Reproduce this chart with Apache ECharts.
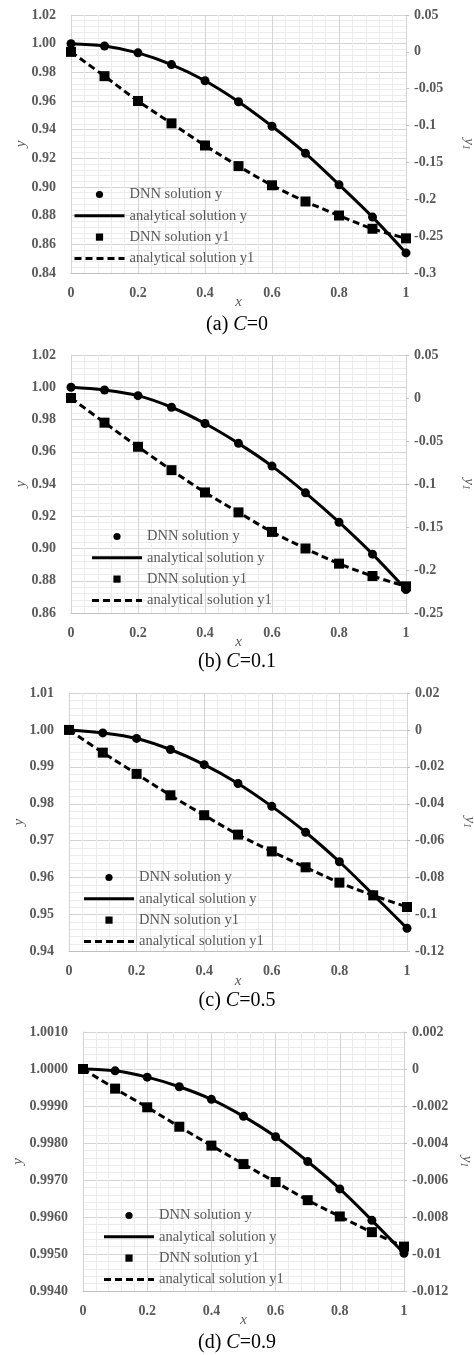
<!DOCTYPE html>
<html>
<head>
<meta charset="utf-8">
<script src="https://cdn.jsdelivr.net/npm/echarts@6/dist/echarts.min.js"></script>
<style>
  html, body { margin: 0; padding: 0; background: #fff; }
  #main { width: 474px; height: 1355px; }
</style>
</head>
<body>
<div id="main"></div>
<script>
// x 坐标
const xs = [0, 0.1, 0.2, 0.3, 0.4, 0.5, 0.6, 0.7, 0.8, 0.9, 1]

// (a) C=0
const yA = [1.000, 0.9984, 0.9936, 0.9854, 0.9741, 0.9595, 0.9424, 0.9235, 0.9016, 0.8790, 0.8540]
const y1A = [0, -0.033, -0.0667, -0.097, -0.127, -0.155, -0.181, -0.203, -0.222, -0.240, -0.253]
// (b) C=0.1
const yB = [1.000, 0.9983, 0.9948, 0.9876, 0.9775, 0.9652, 0.9511, 0.9345, 0.9163, 0.8965, 0.8745]
const y1B = [0, -0.0287, -0.0567, -0.0839, -0.1098, -0.133, -0.1557, -0.175, -0.1926, -0.207, -0.219]
// (c) C=0.5
const yC = [1.000, 0.9992, 0.9977, 0.9947, 0.9906, 0.9855, 0.9793, 0.9723, 0.9643, 0.9554, 0.9463]
const y1C = [0, -0.0123, -0.0238, -0.0354, -0.0462, -0.0567, -0.0658, -0.0744, -0.0827, -0.0896, -0.0959]
// (d) C=0.9
const yD = [1.0000, 0.99995, 0.99978, 0.99952, 0.99918, 0.99872, 0.99817, 0.99750, 0.99676, 0.99591, 0.99502]
const y1D = [0, -0.00106, -0.00207, -0.00312, -0.00414, -0.00514, -0.00611, -0.00709, -0.00797, -0.00882, -0.00960]

// 坐标轴范围 [min, max, interval, 小数位]
const leftRanges = [[0.84, 1.02, 0.02, 2], [0.86, 1.02, 0.02, 2], [0.94, 1.01, 0.01, 2], [0.994, 1.001, 0.001, 4]]
const rightRanges = [[-0.3, 0.05, 0.05], [-0.25, 0.05, 0.05], [-0.12, 0.02, 0.02], [-0.012, 0.002, 0.002]]
const captions = ['(a) {i|C}=0', '(b) {i|C}=0.1', '(c) {i|C}=0.5', '(d) {i|C}=0.9']
const legendNames = ['DNN solution y', 'analytical solution y', 'DNN solution y1', 'analytical solution y1']

const panels = [[yA, y1A], [yB, y1B], [yC, y1C], [yD, y1D]]

// 布局
const grids = [
  { left: 71, right: 68, top: 15, height: 258, outerBoundsMode: 'none' },
  { left: 71, right: 68, top: 355, height: 258, outerBoundsMode: 'none' },
  { left: 69, right: 67, top: 693, height: 258.5, outerBoundsMode: 'none' },
  { left: 83, right: 70, top: 1032, height: 259, outerBoundsMode: 'none' }
]
const legendPos = [[73, 187], [90.5, 529], [82.5, 870], [102.5, 1208]]
const captionTop = [314, 651, 990, 1332]
const leftNameGap = [42, 42, 42, 57]

const FONT = '"Liberation Serif", "Times New Roman", serif'
const GRAY = '#595959'

const pair = (ys) => xs.map((x, i) => [x, ys[i]])

// 图例：解析解只显示线，不显示点
const legendData = legendNames.map(n => n.indexOf('analytical') === 0
  ? { name: n, itemStyle: { opacity: 0 }, lineStyle: { width: 3 } }
  : { name: n })

const option = {
  animation: false,
  textStyle: { fontFamily: FONT },
  grid: grids,
  title: [],
  legend: [],
  xAxis: [],
  yAxis: [],
  series: []
}

panels.forEach((p, k) => {
  const lr = leftRanges[k]
  const rr = rightRanges[k]
  option.title.push({
    text: captions[k],
    left: 237,
    top: captionTop[k],
    textAlign: 'center',
    padding: 0,
    textStyle: {
      fontFamily: FONT, fontSize: 20, fontWeight: 'normal', color: '#000', lineHeight: 22,
      rich: { i: { fontFamily: FONT, fontSize: 20, fontStyle: 'italic', color: '#000' } }
    }
  })
  option.legend.push({
    data: legendData,
    orient: 'vertical',
    left: legendPos[k][0],
    top: legendPos[k][1],
    padding: 0,
    itemWidth: 50,
    itemHeight: 9,
    itemGap: 6.3,
    selectedMode: false,
    textStyle: { fontFamily: FONT, fontSize: 14.5, lineHeight: 15, color: GRAY }
  })
  option.xAxis.push({
    type: 'value',
    gridIndex: k,
    min: 0, max: 1, interval: 0.2,
    name: 'x',
    nameLocation: 'middle',
    nameGap: 22,
    nameMoveOverlap: false,
    nameTextStyle: { fontFamily: FONT, fontSize: 15, fontStyle: 'italic', color: GRAY },
    axisLine: { onZero: false, lineStyle: { color: '#bfbfbf', width: 1 } },
    axisTick: { show: false },
    axisLabel: { fontFamily: FONT, fontSize: 14, fontWeight: 'bold', color: GRAY, margin: 13 },
    splitLine: { show: true, lineStyle: { color: '#d4d4d4', width: 1 } },
    minorTick: { show: false, splitNumber: 5 },
    minorSplitLine: { show: true, lineStyle: { color: '#ececec', width: 1 } }
  })
  option.yAxis.push({
    type: 'value',
    gridIndex: k,
    min: lr[0], max: lr[1], interval: lr[2],
    name: '{i|y}',
    nameLocation: 'middle',
    nameGap: leftNameGap[k],
    nameMoveOverlap: false,
    nameRotate: 90,
    nameTextStyle: { color: GRAY, rich: { i: { fontFamily: FONT, fontSize: 15, fontStyle: 'italic', color: GRAY } } },
    axisLine: { show: true, onZero: false, lineStyle: { color: '#d4d4d4', width: 1 } },
    axisTick: { show: false },
    axisLabel: {
      fontFamily: FONT, fontSize: 14, fontWeight: 'bold', color: GRAY, margin: 15,
      formatter: (v) => v.toFixed(lr[3])
    },
    splitLine: { show: true, lineStyle: { color: '#d4d4d4', width: 1 } },
    minorTick: { show: false, splitNumber: 5 },
    minorSplitLine: { show: true, lineStyle: { color: '#ececec', width: 1 } }
  })
  option.yAxis.push({
    type: 'value',
    gridIndex: k,
    position: 'right',
    min: rr[0], max: rr[1], interval: rr[2],
    name: '{i|y}{s|1}',
    nameLocation: 'middle',
    nameGap: 55,
    nameMoveOverlap: false,
    nameRotate: -90,
    nameTextStyle: {
      color: GRAY,
      rich: {
        i: { fontFamily: FONT, fontSize: 15, fontStyle: 'italic', color: GRAY },
        s: { fontFamily: FONT, fontSize: 10, fontStyle: 'italic', color: GRAY, padding: [6, 0, 0, 0] }
      }
    },
    axisLine: { show: true, onZero: false, lineStyle: { color: '#d4d4d4', width: 1 } },
    axisTick: { show: true, length: 3, inside: false, lineStyle: { color: '#bfbfbf' } },
    axisLabel: {
      fontFamily: FONT, fontSize: 14, fontWeight: 'bold', color: GRAY, margin: 8,
      formatter: (v) => String(+v.toFixed(4))
    },
    splitLine: { show: false }
  })
  const yi = k * 2
  option.series.push(
    {
      name: 'analytical solution y', type: 'line', xAxisIndex: k, yAxisIndex: yi,
      data: pair(p[0]), smooth: 0.35, symbol: 'none', z: 3,
      lineStyle: { color: '#000', width: 3 }, itemStyle: { color: '#000' }
    },
    {
      name: 'analytical solution y1', type: 'line', xAxisIndex: k, yAxisIndex: yi + 1,
      data: pair(p[1]), smooth: 0.35, symbol: 'none', z: 3,
      lineStyle: { color: '#000', width: 3, type: [7, 4] }, itemStyle: { color: '#000' }
    },
    {
      name: 'DNN solution y', type: 'line', xAxisIndex: k, yAxisIndex: yi,
      data: pair(p[0]), symbol: 'circle', symbolSize: 9, z: 4,
      lineStyle: { width: 0, opacity: 0 }, itemStyle: { color: '#000' }
    },
    {
      name: 'DNN solution y1', type: 'line', xAxisIndex: k, yAxisIndex: yi + 1,
      data: pair(p[1]), symbol: 'rect', symbolSize: 10, z: 4,
      lineStyle: { width: 0, opacity: 0 }, itemStyle: { color: '#000' }
    }
  )
})

const myChart = echarts.init(document.getElementById('main'))
myChart.setOption(option)
</script>
</body>
</html>
